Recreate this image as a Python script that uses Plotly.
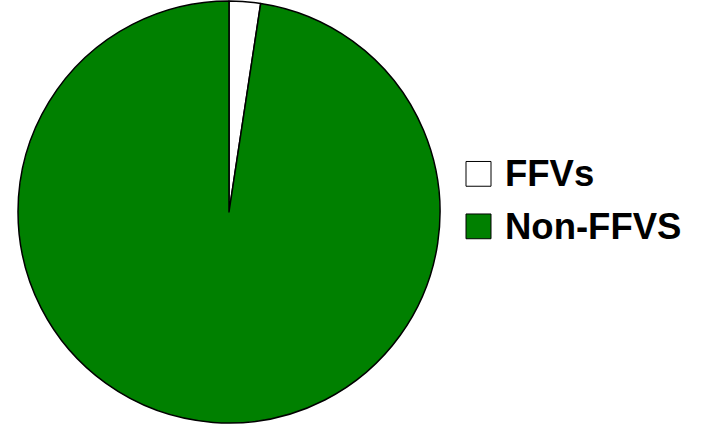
import plotly.graph_objects as go

# Share of vehicles
labels = ["FFVs", "Non-FFVS"]
values = [2.4, 97.6]
colors = ["#FFFFFF", "#008000"]

W, H = 707, 426

fig = go.Figure()
fig.add_trace(go.Pie(
    labels=labels,
    values=values,
    marker=dict(colors=colors, line=dict(color="#000000", width=1.5)),
    sort=False,
    direction="clockwise",
    rotation=0,
    textinfo="none",
    hoverinfo="label+percent",
    showlegend=False,
    domain=dict(x=[18 / W, 440 / W], y=[0, 1]),
))

# Legend drawn as squares with text labels
box_x0, box_x1 = 466, 491
box_tops = [162, 215]
box_size = 25
for lab, col, top in zip(labels, colors, box_tops):
    fig.add_shape(
        type="rect", xref="paper", yref="paper",
        x0=box_x0 / W, x1=box_x1 / W,
        y0=1 - (top + box_size) / H, y1=1 - top / H,
        line=dict(color="#000000", width=1), fillcolor=col,
    )
    fig.add_annotation(
        xref="paper", yref="paper",
        x=503 / W, y=1 - (top + box_size / 2) / H,
        xanchor="left", yanchor="middle",
        text="<b>%s</b>" % lab, showarrow=False,
        font=dict(family="Liberation Sans, Arial, sans-serif", size=36.5, color="#000000"),
    )

fig.update_layout(
    width=W, height=H,
    margin=dict(l=0, r=0, t=1, b=3),
    paper_bgcolor="#FFFFFF",
    plot_bgcolor="#FFFFFF",
)

fig.write_html("out.html")
